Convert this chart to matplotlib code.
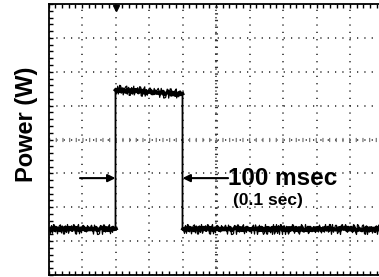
import numpy as np
import matplotlib
matplotlib.use("Agg")
import matplotlib.pyplot as plt
from matplotlib.ticker import MultipleLocator, NullFormatter

plt.rcParams['font.family'] = ['Liberation Sans', 'DejaVu Sans']

# scope trace: time in ms (50 ms/div), power in screen divisions
t_ms = np.array([0, 100, 100, 150, 200, 200, 500])
power_div = np.array([1.36, 1.36, 5.46, 5.40, 5.34, 1.36, 1.36])

pulse_start = 100    # ms
pulse_end = 200      # ms
trigger_t = 100      # ms
arrow_level = 2.86   # div
label_main = "100 msec"
label_sub = "(0.1 sec)"

fig = plt.figure(figsize=(3.79, 2.77), dpi=100)
ax = fig.add_axes([48.5/379, 2/277, 335/379, 271/277])
ax.set_xlim(0, 500)
ax.set_ylim(0, 8)

# graticule
ax.xaxis.set_major_locator(MultipleLocator(50))
ax.yaxis.set_major_locator(MultipleLocator(1))
ax.xaxis.set_minor_locator(MultipleLocator(10))
ax.yaxis.set_minor_locator(MultipleLocator(0.2))
ax.xaxis.set_major_formatter(NullFormatter())
ax.yaxis.set_major_formatter(NullFormatter())
ax.tick_params(which='both', direction='in', top=True, right=True,
               length=3, width=1, color='k')
ax.grid(which='major', color='#222222', lw=1.1, linestyle=(0, (0.8, 4.0)))
for s in ax.spines.values():
    s.set_linewidth(1.3)

# center cross with tick marks
ax.axvline(250, color='#333333', lw=2.2, linestyle=(0, (0.45, 1.74)))
ax.axhline(4, color='#777777', lw=3.0, linestyle=(0, (0.3, 1.3)))

# trace: thin full path + noisy flat parts
ax.plot(t_ms, power_div, color='k', lw=1.3)
for a, b in [(0, 2), (2, 5), (5, 7)]:
    ln, = ax.plot(t_ms[a:b], power_div[a:b], color='k', lw=0.9)
    ln.set_sketch_params(scale=5.0, length=0.7, randomness=4)
    ln2, = ax.plot(t_ms[a:b], power_div[a:b], color='k', lw=2.6)
    ln2.set_sketch_params(scale=1.5, length=1.2, randomness=2)

# trigger marker
ax.plot([trigger_t], [0.985], marker='v', color='k', ms=5,
        transform=ax.get_xaxis_transform(), clip_on=False)

# width arrows
ax.annotate('', xy=(pulse_start, arrow_level), xytext=(pulse_start - 53, arrow_level),
            arrowprops=dict(arrowstyle='-|>', color='k', lw=1.5, mutation_scale=11,
                            shrinkA=0, shrinkB=0))
ax.annotate('', xy=(pulse_end, arrow_level), xytext=(pulse_end + 68, arrow_level),
            arrowprops=dict(arrowstyle='-|>', color='k', lw=1.5, mutation_scale=11,
                            shrinkA=0, shrinkB=0))
ax.text(pulse_end + 68, arrow_level, label_main, fontsize=17.5, fontweight='bold',
        ha='left', va='center')
ax.text(pulse_end + 75, arrow_level - 0.65, label_sub, fontsize=12.5, fontweight='bold',
        ha='left', va='center')

fig.text(27/379, 153/277, "Power (W)", rotation=90, fontsize=17, fontweight='bold',
         ha='center', va='center')

fig.savefig("out.png", dpi=100)
